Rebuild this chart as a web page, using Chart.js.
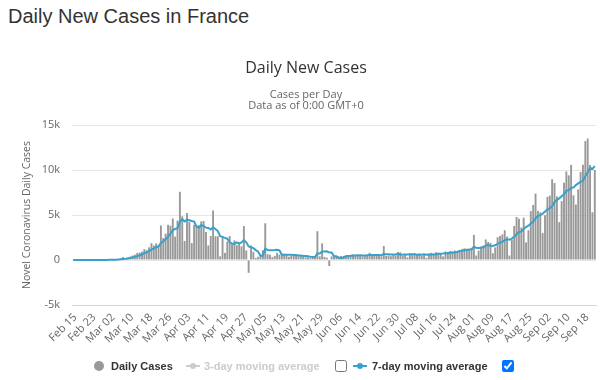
<!DOCTYPE html>
<html><head><meta charset="utf-8">
<script src="https://cdn.jsdelivr.net/npm/chart.js@4.4.0/dist/chart.umd.min.js"></script>
<style>
html,body{margin:0;padding:0;background:#fff;}
#wrap{position:relative;width:600px;height:380px;overflow:hidden;font-family:"Liberation Sans",Arial,sans-serif;}
#pageTitle{position:absolute;left:8px;top:4px;font-size:20px;line-height:24px;color:#333;white-space:nowrap;}
canvas{position:absolute;left:0;top:0;}
.leg{position:absolute;top:359px;height:14px;font-size:11px;font-weight:bold;line-height:14px;white-space:nowrap;}
.abs{position:absolute;}
input.cb{position:absolute;margin:0;width:12px;height:12px;}
</style>
</head>
<body>
<div id="wrap">
  <div id="pageTitle">Daily New Cases in France</div>
  <canvas id="c" width="600" height="380"></canvas>
  <div class="abs" style="left:94px;top:361px;width:10px;height:10px;border-radius:50%;background:#999"></div>
  <span class="leg" style="left:111px;color:#333">Daily Cases</span>
  <div class="abs" style="left:186px;top:365px;width:14px;height:2px;background:#ccc"></div>
  <div class="abs" style="left:190px;top:363px;width:6px;height:6px;border-radius:50%;background:#ccc"></div>
  <span class="leg" style="left:204px;color:#ccc">3-day moving average</span>
  <input type="checkbox" class="cb" style="left:335px;top:360px">
  <div class="abs" style="left:353px;top:365px;width:14px;height:2px;background:#38a1cb"></div>
  <div class="abs" style="left:357px;top:363px;width:6px;height:6px;border-radius:50%;background:#38a1cb"></div>
  <span class="leg" style="left:372px;color:#333">7-day moving average</span>
  <input type="checkbox" class="cb" checked style="left:502px;top:360px">
</div>
<script>
// Tick labels shown on the x axis
const tickLabels = ['Feb 15','Feb 23','Mar 02','Mar 10','Mar 18','Mar 26','Apr 03','Apr 11','Apr 19','Apr 27','May 05','May 13','May 21','May 29','Jun 06','Jun 14','Jun 22','Jun 30','Jul 08','Jul 16','Jul 24','Aug 01','Aug 09','Aug 17','Aug 25','Sep 02','Sep 10','Sep 18'];

// Calendar span of the categories (month, first day, last day)
const months = [['Feb',15,29],['Mar',1,31],['Apr',1,30],['May',1,31],['Jun',1,30],['Jul',1,31],['Aug',1,31],['Sep',1,22]];

// Daily new cases (Feb 15 .. Sep 22)
const dailyCases = [
0,0,0,0,0,0,0,0,0,0,
2,4,20,19,43,30,61,21,73,138,
190,336,177,286,372,497,595,785,838,924,
1210,1097,1404,1861,1617,1847,1559,3838,2446,2931,
3922,3809,4611,2599,4376,7578,4861,2116,5233,4267,
1873,3912,3777,3881,4286,4342,3114,1613,2673,5497,
2633,2641,405,2569,785,2051,2667,1827,2183,1653,
1773,1526,3764,1065,-1422,1607,920,218,354,527,
1100,4080,640,580,312,456,802,600,700,560,
650,350,480,580,530,420,480,350,300,310,
200,280,390,3200,400,1850,350,250,-670,400,
350,400,400,450,450,520,550,450,600,500,
550,480,400,520,600,800,450,550,480,500,
400,1550,450,500,420,550,500,900,850,500,
650,300,700,650,750,600,700,450,650,250,
750,800,700,850,800,700,400,950,900,1000,
950,1050,1000,1100,1200,1300,1250,1200,1300,2800,
500,1050,1500,1604,2288,2000,1900,750,1400,2524,
2669,2846,3310,2600,493,2238,3776,4771,4586,3602,
4700,1955,3304,5429,6111,7379,5453,5300,3000,4982,
7017,7157,8975,8550,7071,4203,6544,8577,9843,9406,
10561,7183,6158,7852,9784,10593,13215,13498,10569,5298,
10008
];

// 7-day moving average (read with the bars)
const movingAvg7 = [
0,0,0,0,0,0,0,0,0,0,
0,1,4,6,13,17,26,28,38,55,
79,121,142,174,225,285,350,435,507,614,
746,849,979,1160,1279,1423,1514,1889,2082,2300,
2594,2907,3302,3451,3528,4261,4537,4279,4482,4433,
4329,4263,3720,3580,3890,3763,3598,3561,3384,3629,
3451,3216,2654,2576,2458,2369,1964,1849,1784,1962,
1848,1954,2199,1970,1506,1424,1319,1097,929,467,
472,1258,1120,1071,1085,1099,1139,1067,584,573,
583,588,592,560,550,510,499,456,449,424,
370,334,330,719,726,947,953,960,824,826,
419,419,211,226,254,424,446,460,489,503,
517,521,504,500,521,550,543,543,543,557,
540,676,626,633,614,624,624,696,596,603,
624,607,629,650,629,593,621,593,643,579,
593,600,614,636,686,693,714,743,757,800,
814,850,893,993,1029,1086,1121,1157,1193,1450,
1364,1343,1371,1422,1577,1677,1549,1585,1635,1781,
1933,2013,2200,2300,2263,2383,2562,2862,3111,3152,
3452,3661,3813,4050,4241,4640,4904,4990,5139,5379,
5606,5755,5983,6426,6679,6851,7074,7297,7680,7742,
8029,8045,8325,8511,8684,8791,9335,9755,10238,10116,
10424
];

const dates = [];
months.forEach(([m, a, b]) => { for (let d = a; d <= b; d++) dates.push(m + ' ' + String(d).padStart(2, '0')); });

const FONT = '"Open Sans", "Liberation Sans", sans-serif';
Chart.defaults.font.family = FONT;

new Chart(document.getElementById('c'), {
  type: 'bar',
  data: {
    labels: dates,
    datasets: [
      { type: 'line', label: '7-day moving average', data: movingAvg7, borderColor: '#38a1cb', borderWidth: 2,
        pointRadius: 0, tension: 0, order: 0 },
      { type: 'bar', label: 'Daily Cases', data: dailyCases, backgroundColor: '#999999',
        barPercentage: 0.8, categoryPercentage: 1.0, order: 1 }
    ]
  },
  options: {
    responsive: false, animation: false, devicePixelRatio: 1,
    layout: { padding: { top: 59, left: 16, right: 4, bottom: 0 } },
    plugins: {
      legend: { display: false },
      tooltip: { enabled: false },
      title: { display: true, text: 'Daily New Cases', color: '#333333',
        font: { size: 16, weight: 'normal', lineHeight: 1.2 }, padding: { top: 0, bottom: 11.6 } },
      subtitle: { display: true, text: ['Cases per Day', 'Data as of 0:00 GMT+0'], color: '#666666',
        font: { size: 11, lineHeight: 1.0 }, padding: { top: 0, bottom: 13.2 } }
    },
    scales: {
      x: {
        grid: { display: false },
        border: { display: true, color: '#ccd6eb' },
        ticks: { autoSkip: false, minRotation: 45, maxRotation: 45, color: '#666666', font: { size: 11 }, padding: -2, labelOffset: 2,
          callback: function (v, i) { return tickLabels.includes(dates[i]) ? dates[i] : null; } },
        afterFit: function (a) { a.height = 75; }
      },
      y: {
        min: -5000, max: 15000,
        ticks: { stepSize: 5000, color: '#666666', font: { size: 11 }, padding: 12,
          callback: function (v) { return v === 0 ? '0' : (v / 1000) + 'k'; } },
        grid: { color: '#e6e6e6', drawTicks: false },
        border: { display: false },
        title: { display: true, text: 'Novel Coronavirus Daily Cases', color: '#666666', font: { size: 10.5 }, padding: { top: 4.6, bottom: 0 } },
        afterFit: function (a) { a.width = 56; }
      }
    }
  }
});
</script>
</body></html>
